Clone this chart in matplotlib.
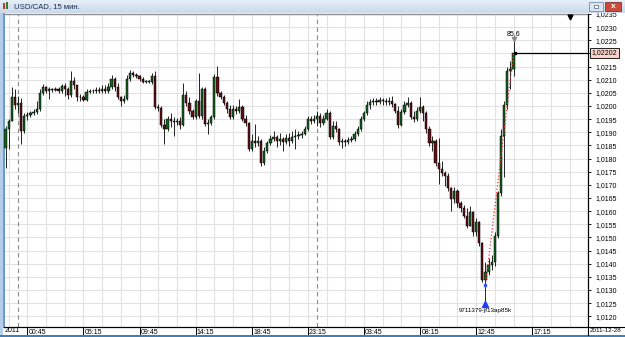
import matplotlib.pyplot as plt
import matplotlib.transforms as mtransforms
from matplotlib.colors import LinearSegmentedColormap
from matplotlib.lines import Line2D
from matplotlib.patches import Rectangle
import numpy as np

plt.rcParams['font.family'] = ['Liberation Sans', 'DejaVu Sans']

W, H = 625, 337

# --- data: USD/CAD 15 min bars (open of each bar = close of the previous one)
open0 = 1.01841
closes = [
    1.01913, 1.01943, 1.02034, 1.02004, 1.02011, 1.01905, 1.01962, 1.01966, 1.01974, 1.01977,
    1.01989, 1.02049, 1.02072, 1.02057, 1.02064, 1.02061, 1.02064, 1.02057, 1.02076, 1.02064,
    1.02042, 1.02095, 1.02080, 1.02034, 1.02034, 1.02023, 1.02053, 1.02057, 1.02057, 1.02061,
    1.02057, 1.02064, 1.02057, 1.02072, 1.02102, 1.02072, 1.02034, 1.02019, 1.02027, 1.02102,
    1.02125, 1.02118, 1.02114, 1.02102, 1.02091, 1.02095, 1.02091, 1.02114, 1.01996, 1.01993,
    1.01928, 1.01913, 1.01951, 1.01943, 1.01939, 1.01943, 1.01928, 1.02042, 1.02011, 1.01981,
    1.01958, 1.02019, 1.01962, 1.02064, 1.01932, 1.01936, 1.01958, 1.02110, 1.02049, 1.02034,
    1.02011, 1.01989, 1.01958, 1.01989, 1.01981, 1.01996, 1.01951, 1.01936, 1.01837, 1.01867,
    1.01860, 1.01867, 1.01784, 1.01830, 1.01860, 1.01875, 1.01883, 1.01867, 1.01875, 1.01864,
    1.01879, 1.01867, 1.01883, 1.01886, 1.01890, 1.01894, 1.01913, 1.01951, 1.01943, 1.01951,
    1.01962, 1.01936, 1.01951, 1.01974, 1.01883, 1.01924, 1.01913, 1.01864, 1.01867, 1.01864,
    1.01871, 1.01875, 1.01894, 1.01913, 1.01951, 1.01974, 1.02004, 1.02015, 1.02019, 1.02015,
    1.02023, 1.02019, 1.02015, 1.02019, 1.02008, 1.01981, 1.01928, 1.01977, 1.02004, 1.02011,
    1.01958, 1.01951, 1.01981, 1.01996, 1.01974, 1.01913, 1.01860, 1.01867, 1.01784, 1.01761,
    1.01746, 1.01735, 1.01689, 1.01648, 1.01678, 1.01629, 1.01610, 1.01583, 1.01545, 1.01595,
    1.01519, 1.01557, 1.01477, 1.01337, 1.01367, 1.01394, 1.01405, 1.01507, 1.01670, 1.01886,
    1.02004, 1.02133, 1.02140, 1.02202,
]
highs = [
    1.01924, 1.01951, 1.02072, 1.02064, 1.02038, 1.02030, 1.01974, 1.01977, 1.01981, 1.01989,
    1.02019, 1.02064, 1.02083, 1.02076, 1.02072, 1.02068, 1.02072, 1.02072, 1.02083, 1.02087,
    1.02072, 1.02133, 1.02110, 1.02080, 1.02045, 1.02042, 1.02064, 1.02064, 1.02064, 1.02072,
    1.02072, 1.02080, 1.02080, 1.02087, 1.02118, 1.02110, 1.02087, 1.02038, 1.02042, 1.02118,
    1.02137, 1.02133, 1.02125, 1.02118, 1.02110, 1.02099, 1.02099, 1.02125, 1.02133, 1.02008,
    1.02000, 1.01951, 1.01962, 1.01974, 1.01958, 1.01955, 1.01958, 1.02087, 1.02057, 1.02034,
    1.01989, 1.02027, 1.02125, 1.02072, 1.02072, 1.01951, 1.01966, 1.02121, 1.02152, 1.02057,
    1.02042, 1.02019, 1.02004, 1.02004, 1.02000, 1.02027, 1.02004, 1.01966, 1.01939, 1.01894,
    1.01932, 1.01886, 1.01875, 1.01845, 1.01867, 1.01890, 1.01905, 1.01890, 1.01898, 1.01883,
    1.01894, 1.01898, 1.01905, 1.01913, 1.01905, 1.01905, 1.01924, 1.01962, 1.01962, 1.01966,
    1.01981, 1.01974, 1.01966, 1.01989, 1.01981, 1.01943, 1.01943, 1.01917, 1.01879, 1.01875,
    1.01883, 1.01886, 1.01905, 1.01924, 1.01962, 1.01981, 1.02019, 1.02027, 1.02030, 1.02030,
    1.02034, 1.02030, 1.02030, 1.02034, 1.02038, 1.02011, 1.02000, 1.01989, 1.02019, 1.02034,
    1.02019, 1.01981, 1.01996, 1.02034, 1.02004, 1.01981, 1.01924, 1.01886, 1.01875, 1.01879,
    1.01792, 1.01754, 1.01746, 1.01693, 1.01693, 1.01686, 1.01640, 1.01625, 1.01610, 1.01621,
    1.01602, 1.01572, 1.01564, 1.01481, 1.01405, 1.01420, 1.01432, 1.01519, 1.01678, 1.01913,
    1.02019, 1.02148, 1.02171, 1.02246,
]
lows = [
    1.01765, 1.01837, 1.01943, 1.01989, 1.01974, 1.01856, 1.01898, 1.01947, 1.01958, 1.01966,
    1.01970, 1.01981, 1.02042, 1.02049, 1.02027, 1.02053, 1.02057, 1.02049, 1.02049, 1.02038,
    1.02027, 1.02034, 1.02064, 1.02019, 1.02019, 1.02019, 1.02019, 1.02049, 1.02049, 1.02049,
    1.02049, 1.02049, 1.02049, 1.02049, 1.02064, 1.02057, 1.02027, 1.02000, 1.02011, 1.02023,
    1.02095, 1.02110, 1.02106, 1.02095, 1.02087, 1.02087, 1.02087, 1.02083, 1.01989, 1.01981,
    1.01921, 1.01856, 1.01905, 1.01921, 1.01886, 1.01928, 1.01913, 1.01924, 1.02000, 1.01970,
    1.01951, 1.01951, 1.01955, 1.01951, 1.01924, 1.01894, 1.01928, 1.01951, 1.02038, 1.02027,
    1.02004, 1.01974, 1.01951, 1.01951, 1.01970, 1.01974, 1.01943, 1.01924, 1.01830, 1.01830,
    1.01845, 1.01848, 1.01773, 1.01776, 1.01822, 1.01852, 1.01867, 1.01845, 1.01852, 1.01830,
    1.01856, 1.01848, 1.01860, 1.01837, 1.01875, 1.01879, 1.01890, 1.01905, 1.01932, 1.01936,
    1.01924, 1.01921, 1.01928, 1.01947, 1.01875, 1.01875, 1.01902, 1.01852, 1.01841, 1.01848,
    1.01856, 1.01864, 1.01867, 1.01886, 1.01905, 1.01943, 1.01966, 1.01989, 1.02004, 1.02004,
    1.02008, 1.02004, 1.02004, 1.02004, 1.01996, 1.01974, 1.01917, 1.01924, 1.01970, 1.01996,
    1.01951, 1.01939, 1.01943, 1.01974, 1.01943, 1.01898, 1.01848, 1.01830, 1.01773, 1.01704,
    1.01735, 1.01697, 1.01678, 1.01602, 1.01629, 1.01617, 1.01595, 1.01572, 1.01534, 1.01542,
    1.01507, 1.01507, 1.01469, 1.01330, 1.01253, 1.01356, 1.01375, 1.01390, 1.01496, 1.01659,
    1.01731, 1.01989, 1.02064, 1.02114,
]

time_labels = ['00:45', '05:15', '09:45', '14:15', '18:45', '23:15', '03:45', '08:15', '12:45', '17:15']
time_label_bars = [7, 25, 43, 61, 79, 97, 115, 133, 151, 169]
day_break_bars = [4, 100]
price_levels = np.arange(1.0120, 1.02351, 0.0005)

last_price = 1.02202
trade_start = (154, 1.01318)     # blue square / start of red dotted line
low_mark = (154, 1.01246)        # blue arrow under the low
order_label = '9711379-jf13ap85k'
high_mark = (163, 1.02254)
high_label = '85,6'

opens = [open0] + closes[:-1]
bars = np.arange(len(closes))

fig = plt.figure(figsize=(W / 100, H / 100), dpi=100)
fig.patch.set_facecolor('white')


def px_axes(x0, y0, x1, y1, **kw):
    # box given in pixels from the top-left corner
    return fig.add_axes([x0 / W, 1 - y1 / H, (x1 - x0) / W, (y1 - y0) / H], **kw)


ax = px_axes(4, 14, 588, 327)
ax.set_xlim(-0.5, 186.9)
ax.set_ylim(1.011591, 1.023447)

# grid
for v in price_levels:
    ax.axhline(v, color='#e2e2e2', lw=0.8, zorder=0)
for b in range(1, 187, 6):
    ax.axvline(b, color='#e2e2e2', lw=0.8, zorder=0)
for b in day_break_bars:
    ax.axvline(b, color='#8c8c8c', lw=0.8, dashes=(4, 3), zorder=1)

# candles
o = np.array(opens)
c = np.array(closes)
up = c >= o
body_col = np.where(up, '#13601f', '#5e1016')
ax.vlines(bars, lows, highs, color='black', lw=0.6, zorder=2)
ax.bar(bars, np.maximum(np.abs(c - o), 0.000005), bottom=np.minimum(o, c), width=0.72,
       color=body_col, edgecolor='black', linewidth=0.35, zorder=3)

# current price line
ax.hlines(last_price, bars[-1] + 0.3, 186.9, color='black', lw=0.9, zorder=4)
ax.plot(bars[-1] + 0.4, last_price, 's', color='black', ms=1.5, zorder=4)
ax.annotate('1,02202', xy=(1.006, last_price), xycoords=('axes fraction', 'data'),
            ha='left', va='center', fontsize=5, annotation_clip=False, zorder=6,
            bbox=dict(boxstyle='square,pad=0.2', fc='#f8d3cb', ec='black', lw=0.6))

# trade line and markers
ax.plot([trade_start[0], bars[-1]], [trade_start[1], last_price], ':', color='#ff2a2a', lw=0.9, zorder=5)
ax.plot(*trade_start, 's', color='#3a55ff', ms=2, zorder=5)
ax.plot(*low_mark, '^', color='#1a3cff', ms=4, zorder=5)
ax.text(low_mark[0], 1.01222, order_label, ha='center', va='center', fontsize=4.5, zorder=5)
ax.plot(*high_mark, 'v', color='#8a8a8a', ms=3, zorder=5)
ax.text(high_mark[0], 1.02277, high_label, ha='center', va='center', fontsize=5, zorder=5)

# shift marker at the top
ax.plot(181.1, 1.02337, 'v', color='black', ms=3.5, zorder=6, clip_on=False)

# axes styling
ax.yaxis.tick_right()
ax.set_yticks(price_levels)
ax.set_yticklabels([('' if abs(v - 1.0220) < 1e-6 else f'{v:.4f}'.replace('.', ','))
                    for v in price_levels])
ax.tick_params(axis='y', labelsize=5, length=2.5, width=0.6, pad=3, colors='black')
ax.set_xticks(time_label_bars)
ax.set_xticklabels([])
ax.tick_params(axis='x', length=6, width=0.7, direction='out', colors='black')
blend = mtransforms.blended_transform_factory(ax.transData, ax.transAxes)
for b, lbl in zip(time_label_bars, time_labels):
    ax.text(b + 0.4, -0.006, lbl, transform=blend, ha='left', va='top', fontsize=5, clip_on=False)
for s in ['right', 'bottom']:
    ax.spines[s].set_color('black')
    ax.spines[s].set_linewidth(0.8)
ax.spines['top'].set_color('#8f8f8f')
ax.spines['top'].set_linewidth(1.0)
ax.spines['left'].set_color('#4f86c6')
ax.spines['left'].set_linewidth(1.2)

fig.text(5 / W, 1 - 331 / H, '2011', fontsize=5, ha='left', va='center')
fig.text(589.5 / W, 1 - 331 / H, '2011-12-28', fontsize=4.5, ha='left', va='center')
fig.add_artist(Line2D([4 / W, 1], [1 - 327 / H] * 2, color='black', lw=0.8))
fig.add_artist(Line2D([588 / W] * 2, [1 - 14 / H, 1 - 335 / H], color='black', lw=0.8))

# window frame
fig.add_artist(Rectangle((0, 0), 3 / W, 1 - 13 / H, transform=fig.transFigure,
                         fc='#b6cde9', ec='none'))
fig.add_artist(Rectangle((0, 0), 1, 2.5 / H, transform=fig.transFigure,
                         fc='#3f7fb8', ec='none'))

# title bar
tb = px_axes(0, 0, W, 13)
grad = LinearSegmentedColormap.from_list('tb', ['#e6eef8', '#cbd9ea'])
tb.imshow(np.linspace(0, 1, 20).reshape(-1, 1), aspect='auto', cmap=grad,
          extent=[0, W, 13, 0])
tb.set_xlim(0, W)
tb.set_ylim(13, 0)
tb.axis('off')
tb.add_patch(Rectangle((3, 3), 2, 6, fc='#c0392b', ec='none'))
tb.add_patch(Rectangle((6, 2), 2, 7, fc='#2e7d32', ec='none'))
tb.text(14, 6.8, 'USD/CAD, 15 мин.', fontsize=5.6, color='#1b2f4d', va='center', ha='left')
tb.add_patch(Rectangle((589, 2), 14, 9, fc='#dbe4f0', ec='#7b90ad', lw=0.6))
tb.add_patch(Rectangle((594, 5), 4, 3, fc='white', ec='#50617a', lw=0.5))
tb.add_patch(Rectangle((605, 2), 16, 9, fc='#c94b3b', ec='#8c2f24', lw=0.6))
tb.text(613, 6.6, 'x', fontsize=6, color='white', fontweight='bold', ha='center', va='center')

fig.savefig('out.png', dpi=100)
